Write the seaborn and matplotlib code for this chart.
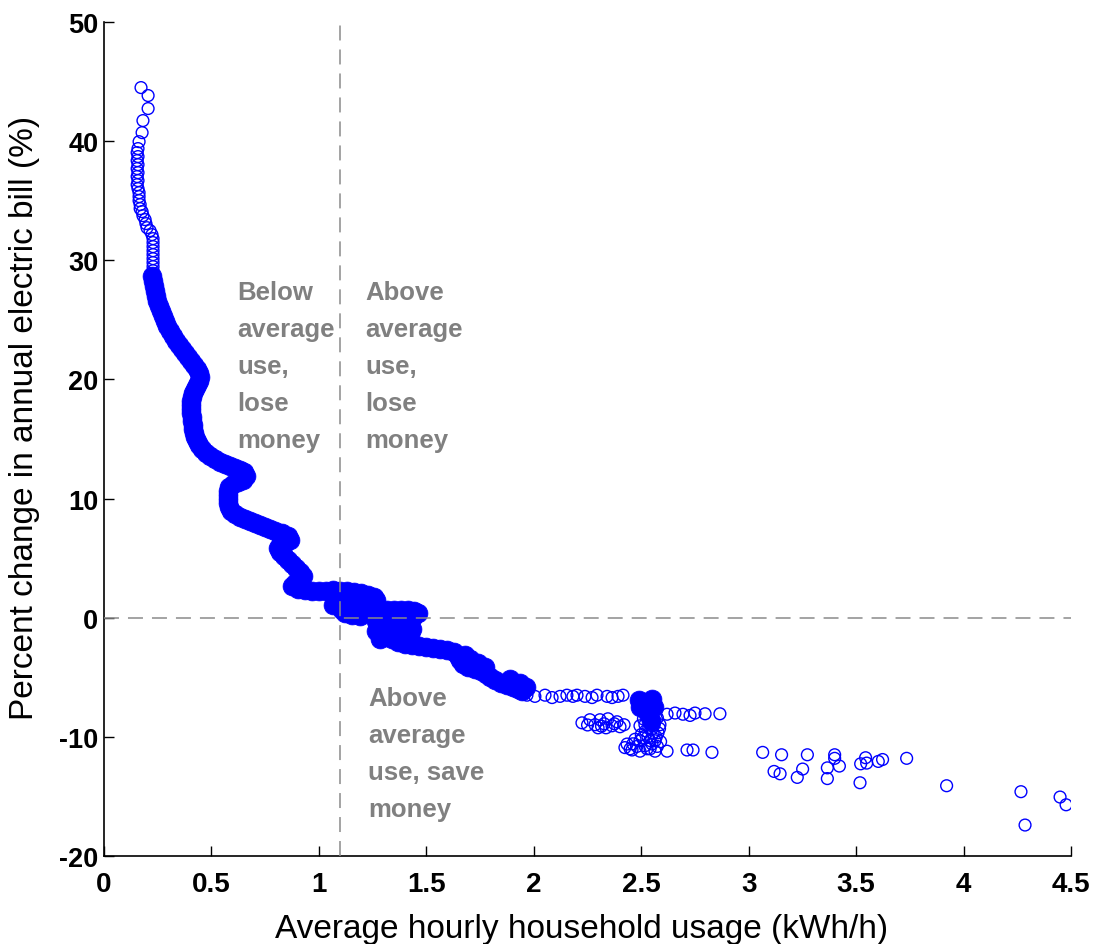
import matplotlib
matplotlib.use("Agg")
import matplotlib.pyplot as plt
import seaborn as sns
import pandas as pd

# ---------------- data ----------------
# sparse households, upper-left tail (open circles)
ring_top = [(0.172, 44.50), (0.205, 43.83), (0.205, 42.74), (0.181, 41.73), (0.177, 40.72),
            (0.163, 39.96), (0.158, 39.38), (0.154, 39.04), (0.158, 38.71), (0.154, 38.37),
            (0.158, 38.03), (0.154, 37.70), (0.158, 37.36), (0.154, 37.03), (0.158, 36.69),
            (0.154, 36.35), (0.158, 36.02), (0.163, 35.68), (0.163, 35.35), (0.163, 35.01),
            (0.168, 34.68), (0.168, 34.34), (0.177, 34.09), (0.181, 33.75), (0.191, 33.42),
            (0.195, 33.08), (0.200, 32.74), (0.214, 32.49), (0.223, 32.16), (0.228, 31.82),
            (0.228, 31.49), (0.228, 31.15), (0.228, 30.81), (0.228, 30.48), (0.228, 30.14),
            (0.228, 29.81), (0.228, 29.47), (0.228, 29.13)]

# dense band of households (overlapping markers render solid)
band_main = [(0.223, 28.71), (0.228, 28.29), (0.233, 27.87), (0.237, 27.45), (0.242, 27.04),
             (0.247, 26.62), (0.256, 26.20), (0.265, 25.78), (0.275, 25.36), (0.284, 24.94),
             (0.293, 24.52), (0.307, 24.10), (0.321, 23.68), (0.335, 23.26), (0.349, 22.92),
             (0.363, 22.59), (0.377, 22.25), (0.391, 21.91), (0.405, 21.58), (0.419, 21.24),
             (0.433, 20.91), (0.442, 20.57), (0.447, 20.23), (0.442, 19.90), (0.433, 19.56),
             (0.423, 19.23), (0.414, 18.89), (0.409, 18.56), (0.405, 18.22), (0.405, 17.88),
             (0.405, 17.55), (0.405, 17.21), (0.409, 16.88), (0.409, 16.54), (0.414, 16.20),
             (0.414, 15.87), (0.419, 15.53), (0.423, 15.20), (0.433, 14.86), (0.442, 14.53),
             (0.456, 14.19), (0.475, 13.85), (0.493, 13.60), (0.516, 13.35), (0.540, 13.10),
             (0.563, 12.93), (0.586, 12.76), (0.610, 12.59), (0.633, 12.43), (0.651, 12.26),
             (0.661, 11.92), (0.647, 11.59), (0.623, 11.42), (0.600, 11.25), (0.582, 11.00),
             (0.577, 10.66), (0.577, 10.33), (0.577, 9.99), (0.577, 9.66), (0.582, 9.32),
             (0.591, 8.98), (0.610, 8.73), (0.633, 8.48), (0.656, 8.31), (0.679, 8.14),
             (0.703, 7.98), (0.726, 7.81), (0.749, 7.64), (0.772, 7.47), (0.796, 7.30),
             (0.828, 7.14), (0.856, 6.88), (0.865, 6.55), (0.842, 6.30), (0.819, 6.13),
             (0.810, 5.88), (0.819, 5.54), (0.838, 5.21), (0.856, 4.87), (0.875, 4.53),
             (0.893, 4.20), (0.912, 3.86), (0.926, 3.53), (0.912, 3.19), (0.889, 2.94),
             (0.875, 2.69), (0.903, 2.43), (0.935, 2.35), (0.968, 2.27), (1.000, 2.27),
             (1.033, 2.27), (1.066, 2.35), (1.098, 2.27), (1.131, 2.27), (1.163, 2.18),
             (1.196, 2.10), (1.228, 1.93), (1.256, 1.76), (1.266, 1.51), (1.247, 1.26),
             (1.214, 1.09), (1.182, 1.01), (1.145, 1.01), (1.121, 0.92), (1.107, 0.67),
             (1.121, 0.42), (1.154, 0.25), (1.191, 0.17), (1.224, 0.42), (1.252, 0.59),
             (1.284, 0.67), (1.317, 0.67), (1.349, 0.67), (1.382, 0.67), (1.415, 0.67),
             (1.442, 0.59), (1.461, 0.42), (1.438, 0.08), (1.396, -0.08), (1.359, -0.25),
             (1.331, -0.42), (1.312, -0.76), (1.312, -1.09), (1.321, -1.43), (1.340, -1.76),
             (1.368, -2.02), (1.401, -2.18), (1.433, -2.27), (1.466, -2.35), (1.498, -2.43),
             (1.531, -2.52), (1.563, -2.60), (1.596, -2.69), (1.629, -2.85), (1.647, -3.19),
             (1.656, -3.53), (1.670, -3.86), (1.694, -4.11), (1.726, -4.28), (1.754, -4.45),
             (1.777, -4.70), (1.796, -4.95), (1.819, -5.21), (1.847, -5.46), (1.875, -5.63),
             (1.903, -5.79), (1.926, -5.96), (1.945, -6.13)]

band_blobs = [(1.075, 1.60), (1.145, 1.60), (1.066, 1.09),
              (1.266, -0.25), (1.266, -1.09), (1.284, -1.76), (1.377, -0.76), (1.424, -0.59),
              (1.377, -1.43), (1.424, -1.43), (1.433, -0.92),
              (1.680, -3.10), (1.703, -3.44), (1.740, -3.78), (1.773, -4.11),
              (1.889, -5.12), (1.936, -5.46), (1.964, -5.79),
              (2.490, -6.88), (2.550, -6.80), (2.494, -7.47), (2.559, -7.47), (2.522, -7.14),
              (2.530, -8.10), (2.545, -8.70)]

# sparse households, lower-right (open circles)
ring_lower = [(1.968, -6.5), (2.005, -6.6), (2.052, -6.5), (2.085, -6.7), (2.122, -6.6),
              (2.154, -6.5), (2.182, -6.6), (2.201, -6.5), (2.238, -6.6), (2.271, -6.7),
              (2.294, -6.5), (2.341, -6.6), (2.364, -6.7), (2.392, -6.6), (2.415, -6.5),
              (2.620, -8.1), (2.657, -8.0), (2.694, -8.1), (2.727, -8.2), (2.750, -8.0),
              (2.797, -8.06), (2.866, -8.06),
              (2.224, -8.82), (2.261, -8.56), (2.285, -8.98), (2.308, -8.56), (2.327, -8.90),
              (2.345, -8.48), (2.364, -9.07), (2.387, -8.73), (2.401, -9.15), (2.420, -8.98),
              (2.299, -9.24), (2.336, -9.24), (2.250, -9.00), (2.315, -9.10), (2.375, -8.90),
              (2.531, -8.31), (2.564, -8.65), (2.517, -8.98), (2.550, -9.32), (2.578, -9.66),
              (2.531, -9.99), (2.494, -10.33), (2.564, -10.33), (2.461, -10.58), (2.517, -10.75),
              (2.541, -11.00), (2.587, -8.98), (2.494, -9.07), (2.540, -8.70), (2.560, -9.00),
              (2.520, -9.50), (2.570, -10.00), (2.500, -9.80), (2.550, -10.60),
              (2.510, -8.50), (2.575, -8.40), (2.535, -9.20), (2.555, -9.70), (2.585, -9.30),
              (2.505, -10.10), (2.540, -10.30), (2.480, -10.80), (2.575, -10.80), (2.590, -10.40),
              (2.424, -10.9), (2.457, -11.1), (2.494, -11.2), (2.527, -11.0), (2.564, -11.2),
              (2.620, -11.2), (2.713, -11.1), (2.741, -11.1), (2.829, -11.3), (2.434, -10.6),
              (2.471, -10.2), (2.448, -11.0)]

ring_far = [(3.065, -11.3), (3.153, -11.5), (3.273, -11.5), (3.400, -11.5), (3.400, -11.8),
            (3.118, -12.9), (3.146, -13.1), (3.251, -12.7), (3.226, -13.4), (3.366, -12.6),
            (3.422, -12.45), (3.366, -13.5), (3.544, -11.75), (3.521, -12.26), (3.549, -12.2),
            (3.603, -12.06), (3.623, -11.9), (3.518, -13.85), (3.735, -11.8), (3.921, -14.1),
            (4.267, -14.6), (4.286, -17.4), (4.449, -15.05), (4.477, -15.7)]

x_ticks = [0, 0.5, 1, 1.5, 2, 2.5, 3, 3.5, 4, 4.5]
x_tick_labels = ["0", "0.5", "1", "1.5", "2", "2.5", "3", "3.5", "4", "4.5"]
y_ticks = [-20, -10, 0, 10, 20, 30, 40, 50]
avg_usage = 1.1

note_below_lose = ["Below", "average", "use,", "lose", "money"]
note_above_lose = ["Above", "average", "use,", "lose", "money"]
note_above_save = ["Above", "average", "use, save", "money"]
note_anchor = {"below_lose": (0.619, 26.78), "above_lose": (1.215, 26.78), "above_save": (1.228, -7.30)}

# ---------------- tables ----------------
dense = pd.DataFrame(band_main + band_blobs, columns=["usage", "change"])
sparse = pd.DataFrame(ring_top + ring_lower + ring_far, columns=["usage", "change"])

# ---------------- plotting ----------------
sns.set_theme(style="white")
plt.rcParams["font.family"] = ["Liberation Sans", "DejaVu Sans"]

fig = plt.figure(figsize=(10.93, 9.45), dpi=100)
ax = fig.add_axes([0.0952, 0.0931, 0.8847, 0.8825])

blue = "#0000ff"
sns.scatterplot(data=dense, x="usage", y="change", ax=ax, s=185, marker="o",
                color=blue, edgecolor=blue, linewidth=0.5, zorder=2, legend=False)
sns.scatterplot(data=sparse, x="usage", y="change", ax=ax, s=72, marker="o",
                facecolor="none", edgecolor=blue, linewidth=1.0, zorder=2, legend=False)
ax.collections[-1].set_facecolor("none")

gray = "#8a8a8a"
ax.axvline(avg_usage, color=gray, lw=1.1, dashes=(9.8, 5.9), zorder=3)
ax.axhline(0, color=gray, lw=1.1, dashes=(9.8, 5.9), zorder=3)

pitch = 3.107
for key, lines in [("below_lose", note_below_lose), ("above_lose", note_above_lose),
                   ("above_save", note_above_save)]:
    x0, y0 = note_anchor[key]
    for i, line in enumerate(lines):
        ax.text(x0, y0 - i * pitch, line, fontsize=18.5, fontweight="bold", color="#808080",
                ha="left", va="baseline", zorder=4)

ax.set_xlim(0, 4.5)
ax.set_ylim(-20, 50)
ax.set_xticks(x_ticks)
ax.set_xticklabels(x_tick_labels, fontsize=20, fontweight="bold")
ax.set_yticks(y_ticks)
ax.set_yticklabels([str(v) for v in y_ticks], fontsize=19.5, fontweight="bold")

for side in ["top", "right"]:
    ax.spines[side].set_visible(False)
for side in ["left", "bottom"]:
    ax.spines[side].set_color("black")
    ax.spines[side].set_linewidth(1.2)

ax.tick_params(axis="both", direction="in", length=7, width=1.0, colors="black",
               bottom=True, left=True)
ax.tick_params(axis="x", pad=11)
ax.tick_params(axis="y", pad=4)
ax.grid(False)

ax.set_xlabel("Average hourly household usage (kWh/h)", fontsize=24, color="black")
ax.set_ylabel("Percent change in annual electric bill (%)", fontsize=24, color="black")
ax.xaxis.set_label_coords(0.494, -0.068)
ax.yaxis.set_label_coords(-0.066, 0.526)

fig.savefig("out.png", dpi=100)
